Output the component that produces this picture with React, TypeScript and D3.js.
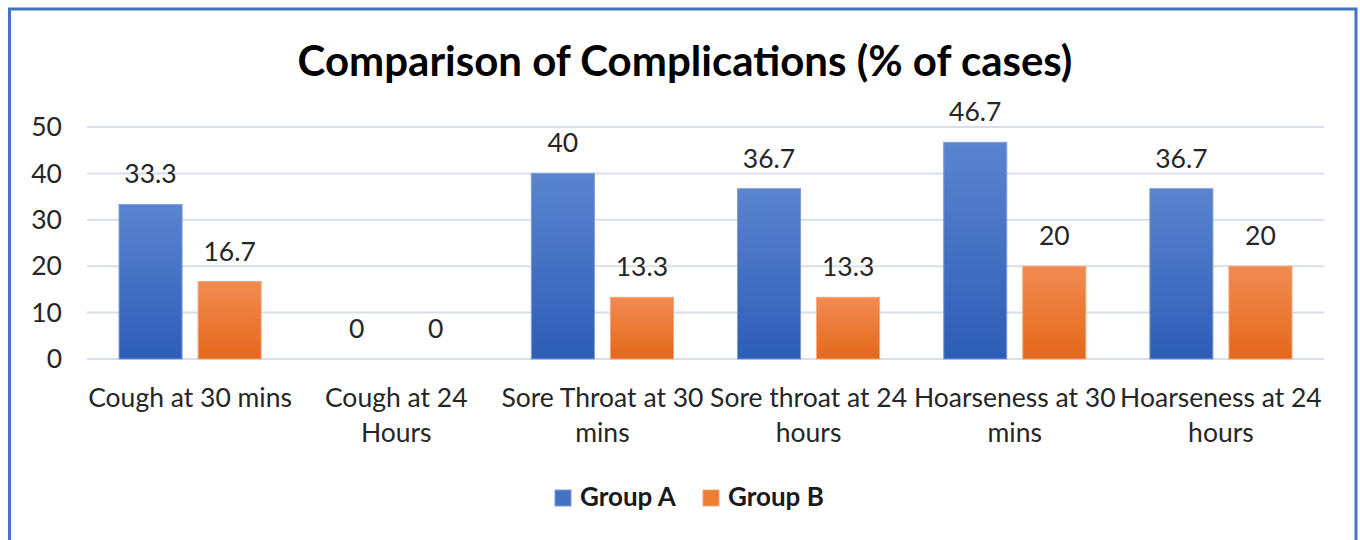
import React from "react";
import * as d3 from "d3";

const categories = [
  "Cough at 30 mins",
  "Cough at 24 Hours",
  "Sore Throat at 30 mins",
  "Sore throat at 24 hours",
  "Hoarseness at 30 mins",
  "Hoarseness at 24 hours",
];
const tickLabelLines = [
  ["Cough at 30 mins"],
  ["Cough at 24", "Hours"],
  ["Sore Throat at 30", "mins"],
  ["Sore throat at 24", "hours"],
  ["Hoarseness at 30", "mins"],
  ["Hoarseness at 24", "hours"],
];
const groupA = [33.3, 0, 40, 36.7, 46.7, 36.7];
const groupB = [16.7, 0, 13.3, 13.3, 20, 20];
const seriesNames = ["Group A", "Group B"];
const yTicks = [0, 10, 20, 30, 40, 50];
const title = "Comparison of Complications (% of cases)";

const W = 1360;
const H = 540;
const FONT = "Lato, 'Open Sans', sans-serif";
const FS = 26.5;

export default function App() {
  const x = d3.scaleBand<string>().domain(categories).range([87, 1324]).paddingInner(0).paddingOuter(0);
  const xs = d3
    .scaleBand<string>()
    .domain(seriesNames)
    .range([0, x.bandwidth()])
    .paddingInner(0.2025)
    .paddingOuter(0.405);
  const y = d3.scaleLinear().domain([0, 50]).range([359, 127]);

  const series = [
    { name: seriesNames[0], values: groupA, fill: "url(#gradA)", stroke: "#7D9DDA", legend: "#4472C4" },
    { name: seriesNames[1], values: groupB, fill: "url(#gradB)", stroke: "#F4A77A", legend: "#ED7D31" },
  ];

  return (
    <svg
      width={W}
      height={H}
      style={{ position: "absolute", left: 0, top: 0, background: "#fff" }}
      fontFamily={FONT}
    >
      <defs>
        <linearGradient id="gradA" x1="0" y1="0" x2="0" y2="1">
          <stop offset="0%" stopColor="#5B84CF" />
          <stop offset="100%" stopColor="#2E5DB7" />
        </linearGradient>
        <linearGradient id="gradB" x1="0" y1="0" x2="0" y2="1">
          <stop offset="0%" stopColor="#F18B52" />
          <stop offset="100%" stopColor="#E4681A" />
        </linearGradient>
      </defs>
      <rect x={0} y={0} width={W} height={H} fill="#fff" />
      <rect x={9.5} y={9} width={1346.5} height={545} fill="none" stroke="#4472C4" strokeWidth={3} />

      <text x={685} y={76} textAnchor="middle" fontSize={42} fontWeight="bold" fill="#000">
        {title}
      </text>

      {yTicks.map((t) => (
        <g key={t}>
          <line x1={87} x2={1324} y1={y(t)} y2={y(t)} stroke="#D9DEE8" strokeWidth={2} />
          <text x={62} y={y(t)} dy="0.35em" textAnchor="end" fontSize={FS} fill="#262626">
            {t}
          </text>
        </g>
      ))}

      {series.map((s) =>
        categories.map((c, i) => {
          const bx = (x(c) as number) + (xs(s.name) as number);
          const v = s.values[i];
          const top = y(v);
          return (
            <g key={s.name + c}>
              {v > 0 && (
                <rect
                  x={bx}
                  y={top}
                  width={xs.bandwidth()}
                  height={y(0) - top}
                  fill={s.fill}
                  stroke={s.stroke}
                  strokeWidth={1}
                />
              )}
              <text x={bx + xs.bandwidth() / 2} y={top - 21} textAnchor="middle" fontSize={FS} fill="#262626">
                {String(v)}
              </text>
            </g>
          );
        })
      )}

      {categories.map((c, i) => (
        <text key={c} textAnchor="middle" fontSize={FS} fill="#262626">
          {tickLabelLines[i].map((ln, j) => (
            <tspan key={j} x={(x(c) as number) + x.bandwidth() / 2} y={407 + j * 35}>
              {ln}
            </tspan>
          ))}
        </text>
      ))}

      <g>
        <rect x={555} y={490} width={16} height={16} fill="#4472C4" stroke="#7D9DDA" />
        <text x={580} y={506} fontSize={26} fontWeight="bold" fill="#1a1a1a">
          {seriesNames[0]}
        </text>
        <rect x={703} y={490} width={16} height={16} fill="#ED7D31" stroke="#F4A77A" />
        <text x={728} y={506} fontSize={26} fontWeight="bold" fill="#1a1a1a">
          {seriesNames[1]}
        </text>
      </g>
    </svg>
  );
}
